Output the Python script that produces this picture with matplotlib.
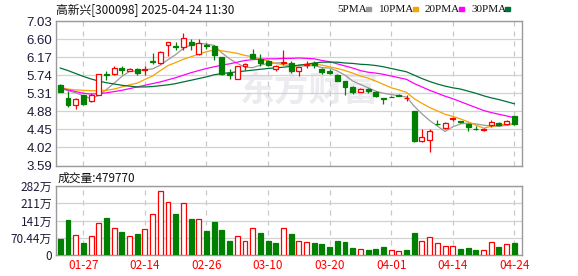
import matplotlib.pyplot as plt
import numpy as np
from matplotlib.patches import Rectangle

W, H = 578, 276

title = '高新兴[300098] 2025-04-24 11:30'
last_volume = 479770

# daily candles (index 0 = 2025-01-22)
open_ = [5.50, 5.20, 5.02, 5.26, 5.13, 5.28, 5.78, 5.76, 5.92, 5.84,
         5.89, 5.86, 6.07, 6.02, 6.46, 6.43, 6.41, 6.53, 6.24, 6.47,
         6.44, 6.17, 5.79, 5.66, 5.96, 6.25, 6.12, 6.08, 5.89, 6.03,
         6.04, 5.83, 5.98, 6.04, 5.89, 5.84, 5.75, 5.59, 5.45, 5.34,
         5.40, 5.35, 5.19, 5.23, 5.27, 5.19, 4.88, 4.17, 4.19, 4.58,
         4.49, 4.69, 4.64, 4.57, 4.46, 4.44, 4.56, 4.61, 4.58, 4.76]
high = [5.53, 5.36, 5.19, 5.28, 5.32, 5.78, 5.84, 5.95, 5.97, 5.92,
        5.90, 5.95, 6.27, 6.31, 6.53, 6.53, 6.74, 6.59, 6.59, 6.50,
        6.46, 6.18, 5.89, 5.97, 6.02, 6.36, 6.25, 6.11, 5.99, 6.33,
        6.08, 5.94, 6.07, 6.08, 5.91, 5.88, 5.77, 5.59, 5.48, 5.43,
        5.44, 5.37, 5.20, 5.24, 5.29, 5.28, 4.89, 4.45, 4.46, 4.68,
        4.62, 4.75, 4.66, 4.60, 4.54, 4.49, 4.67, 4.63, 4.67, 4.78]
low = [5.33, 4.98, 4.94, 5.04, 5.11, 5.26, 5.63, 5.75, 5.78, 5.83,
       5.74, 5.74, 6.00, 6.00, 6.19, 6.33, 6.33, 6.33, 6.22, 6.36,
       6.09, 5.74, 5.66, 5.64, 5.87, 6.14, 5.97, 5.95, 5.85, 5.99,
       5.79, 5.73, 5.91, 5.92, 5.78, 5.76, 5.59, 5.28, 5.29, 5.33,
       5.32, 5.23, 5.05, 5.21, 5.24, 5.12, 4.16, 4.16, 3.91, 4.56,
       4.47, 4.64, 4.59, 4.40, 4.44, 4.40, 4.51, 4.55, 4.55, 4.56]
close = [5.35, 5.02, 5.18, 5.05, 5.28, 5.76, 5.74, 5.92, 5.86, 5.89,
         5.79, 5.88, 6.05, 6.29, 6.52, 6.40, 6.62, 6.45, 6.51, 6.44,
         6.21, 5.76, 5.74, 5.95, 6.00, 6.16, 6.02, 5.99, 5.97, 6.06,
         5.84, 5.93, 6.01, 5.99, 5.82, 5.80, 5.60, 5.46, 5.34, 5.42,
         5.36, 5.24, 5.18, 5.22, 5.25, 5.20, 4.17, 4.27, 4.42, 4.57,
         4.59, 4.71, 4.63, 4.50, 4.45, 4.46, 4.63, 4.56, 4.65, 4.57]

# volume in 万
volume = [67, 142, 83, 51, 78, 132, 150, 112, 92, 78,
          84, 107, 169, 260, 215, 166, 211, 146, 149, 100,
          133, 104, 59, 78, 58, 112, 88, 59, 51, 112,
          84, 59, 55, 51, 47, 34, 59, 55, 30, 26,
          22, 26, 34, 22, 18, 22, 88, 59, 72, 51,
          38, 38, 26, 30, 22, 22, 55, 34, 43, 47.98]

ma5 = [5.44, 5.37, 5.32, 5.25, 5.18, 5.26, 5.40, 5.55, 5.71, 5.83,
       5.84, 5.87, 5.89, 5.98, 6.11, 6.23, 6.38, 6.46, 6.50, 6.48,
       6.45, 6.27, 6.13, 6.02, 5.93, 5.92, 5.98, 6.02, 6.03, 6.04,
       5.98, 5.96, 5.96, 5.97, 5.92, 5.91, 5.84, 5.74, 5.60, 5.52,
       5.44, 5.36, 5.31, 5.28, 5.25, 5.22, 5.00, 4.82, 4.66, 4.53,
       4.40, 4.51, 4.58, 4.60, 4.58, 4.55, 4.53, 4.52, 4.55, 4.57]
ma10 = [5.44, 5.41, 5.39, 5.38, 5.37, 5.37, 5.38, 5.41, 5.46, 5.51,
        5.55, 5.64, 5.72, 5.85, 5.97, 6.04, 6.12, 6.18, 6.24, 6.30,
        6.34, 6.32, 6.29, 6.26, 6.21, 6.18, 6.12, 6.08, 6.02, 5.99,
        5.95, 5.97, 5.99, 6.00, 5.98, 5.94, 5.90, 5.85, 5.79, 5.72,
        5.67, 5.60, 5.52, 5.44, 5.39, 5.33, 5.18, 5.07, 4.97, 4.89,
        4.81, 4.76, 4.70, 4.63, 4.55, 4.48, 4.52, 4.55, 4.58, 4.58]
ma20 = [5.43, 5.39, 5.35, 5.31, 5.29, 5.30, 5.32, 5.35, 5.38, 5.42,
        5.46, 5.50, 5.54, 5.58, 5.63, 5.68, 5.74, 5.80, 5.85, 5.90,
        5.94, 5.98, 6.01, 6.05, 6.09, 6.11, 6.12, 6.13, 6.13, 6.14,
        6.14, 6.15, 6.14, 6.13, 6.09, 6.06, 6.01, 5.96, 5.91, 5.85,
        5.81, 5.79, 5.76, 5.72, 5.68, 5.64, 5.54, 5.46, 5.38, 5.31,
        5.24, 5.18, 5.11, 5.04, 4.97, 4.90, 4.85, 4.81, 4.77, 4.73]
ma30 = [5.91, 5.85, 5.78, 5.71, 5.65, 5.60, 5.56, 5.53, 5.50, 5.48,
        5.46, 5.46, 5.47, 5.49, 5.51, 5.54, 5.58, 5.62, 5.66, 5.70,
        5.75, 5.78, 5.80, 5.82, 5.84, 5.86, 5.88, 5.90, 5.915, 5.93,
        5.95, 5.98, 6.00, 6.03, 6.05, 6.05, 6.05, 6.03, 6.02, 6.00,
        5.99, 5.97, 5.94, 5.90, 5.86, 5.82, 5.74, 5.66, 5.59, 5.53,
        5.48, 5.44, 5.41, 5.36, 5.31, 5.25, 5.20, 5.16, 5.11, 5.06]

tick_idx = [3, 11, 19, 27, 35, 43, 51, 59]
tick_labels = ['01-27', '02-14', '02-26', '03-10', '03-20', '04-01', '04-14', '04-24']
price_ticks = [3.59, 4.02, 4.45, 4.88, 5.31, 5.74, 6.17, 6.60, 7.03]
vol_ticks = [0, 70.44, 141, 211, 282]
vol_tick_labels = ['0', '70.44万', '141万', '211万', '282万']

ma_names = ['5PMA', '10PMA', '20PMA', '30PMA']
ma_colors = ['#9a9a9a', '#f5a300', '#ff00ff', '#00703a']

UP = '#ff0000'
DOWN = '#008000'
CJK = ['Noto Sans CJK SC', 'DejaVu Sans']


def fx(px):
    return px / W


def fy(px):
    return 1 - px / H


def style_axes(ax):
    for s in ax.spines.values():
        s.set_color('#9a9a9a')
        s.set_linewidth(1.0)
    ax.tick_params(length=0)
    ax.set_axisbelow(True)
    ax.grid(axis='y', color='#d2d2d2', lw=0.9, ls='-')
    ax.grid(axis='x', color='#c8c8c8', lw=0.9, ls=(0, (4, 4)))


def main():
    o = np.array(open_)
    c = np.array(close)
    hi = np.array(high)
    lo = np.array(low)
    x = np.arange(len(c))
    up = c >= o

    fig = plt.figure(figsize=(W / 100, H / 100), dpi=100)

    # price panel
    ax = fig.add_axes([fx(55.5), fy(165.5), fx(522) - fx(55.5), fy(21) - fy(165.5)])
    style_axes(ax)
    # faint watermark
    ax.text(0.545, 0.52, '东方财富', transform=ax.transAxes, ha='center', va='center',
            fontsize=25, fontweight='bold', color='#ececf0', family=CJK, zorder=0)

    for vals, col in zip([ma5, ma10, ma20, ma30], ma_colors):
        ax.plot(x, vals, color=col, lw=0.9, zorder=2)

    colors = np.where(up, UP, DOWN)
    ax.vlines(x, lo, hi, colors=colors, lw=0.9, zorder=3)
    body = np.maximum(np.abs(c - o), 0.008)
    ax.bar(x, body, bottom=np.minimum(o, c), width=0.64,
           color=np.where(up, 'white', DOWN), edgecolor=colors, lw=0.9, zorder=4)

    ax.set_xlim(-0.62, len(c))
    ax.set_ylim(3.59, 7.03)
    ax.set_xticks(tick_idx)
    ax.set_xticklabels([])
    ax.set_yticks(price_ticks)
    ax.set_yticklabels(['%.2f' % t for t in price_ticks], fontsize=9.5,
                       family='Liberation Sans', color='#1c1c3a')
    ax.tick_params(axis='y', pad=2.5)

    # volume panel, coloured by close vs previous close
    vx = fig.add_axes([fx(55.5), fy(255), fx(522) - fx(55.5), fy(186) - fy(255)])
    style_axes(vx)
    prev = np.concatenate([[o[0]], c[:-1]])
    vup = c > prev
    vcol = np.where(vup, UP, DOWN)
    vx.bar(x, volume, width=0.64, color=np.where(vup, 'white', DOWN),
           edgecolor=vcol, lw=0.9, zorder=3)
    vx.set_xlim(-0.62, len(c))
    vx.set_ylim(0, 282)
    vx.set_yticks(vol_ticks)
    vx.set_yticklabels(vol_tick_labels, fontsize=8.5, family=CJK, color='#1c1c3a')
    vx.set_xticks(tick_idx)
    vx.set_xticklabels(tick_labels, fontsize=8.5, family=CJK, color=UP)
    vx.tick_params(axis='y', pad=2.5)
    vx.tick_params(axis='x', pad=3)

    # texts
    fig.text(fx(56), fy(11), title, ha='left', va='center', fontsize=8.5,
             family=CJK, color='#111111')
    fig.text(fx(58), fy(178), '成交量:%d' % last_volume, ha='left', va='center',
             fontsize=8.5, family=CJK, color='#111111')

    text_left = [337, 379, 425, 471]
    box_left = [366, 413, 459, 505]
    for name, col, tl, bl in zip(ma_names, ma_colors, text_left, box_left):
        fig.text(fx(tl), fy(9.5), name, ha='left', va='center', fontsize=8,
                 family='Liberation Serif', color='#111111')
        fig.patches.append(Rectangle((fx(bl), fy(10.5)), 5 / W, 3 / H,
                                     transform=fig.transFigure, color=col))

    fig.savefig('out.png', dpi=100)
    plt.close(fig)


if __name__ == '__main__':
    main()
